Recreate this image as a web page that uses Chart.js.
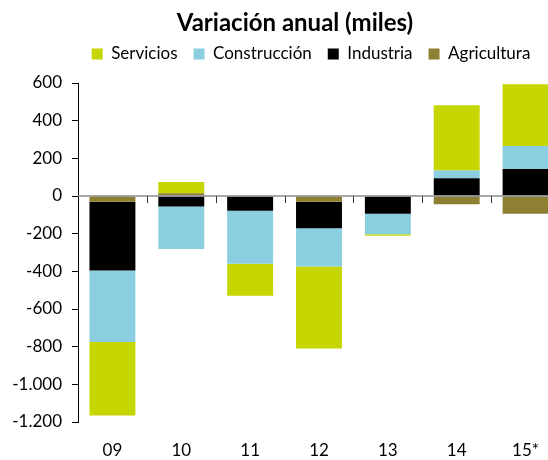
<!DOCTYPE html>
<html><head><meta charset="utf-8">
<script src="https://cdn.jsdelivr.net/npm/chart.js@4"></script>
<style>html,body{margin:0;padding:0;overflow:hidden;background:#fff}
#wrap{width:548px;height:460px;overflow:hidden;position:relative}
canvas{position:absolute;left:0;top:0}
</style></head><body><div id="wrap"><canvas id="c" width="590" height="460"></canvas></div>
<script>
const categories = ['09','10','11','12','13','14','15*'];
const servicios    = [-390,   60, -170, -436,   -8, 346, 328];
const construccion = [-380, -226, -282, -203, -109,  42, 122];
const industria    = [-365,  -56,  -78, -141,  -94,  94, 143];
const agricultura  = [ -30,   15,    0,  -30,    0, -44, -94];
const yMin = -1200, yMax = 600, yStep = 200;

const FONT = 'Lato';
const fmt = v => String(v).replace(/\B(?=(\d{3})+(?!\d))/g, '.');

const zeroLine = {
  id: 'zeroLine',
  afterDatasetsDraw(chart) {
    const {ctx, chartArea, scales: {x, y}} = chart;
    const y0 = y.getPixelForValue(0);
    ctx.save();
    ctx.strokeStyle = '#8c8c8c'; ctx.lineWidth = 1.5;
    ctx.beginPath(); ctx.moveTo(chartArea.left, y0); ctx.lineTo(chartArea.right, y0); ctx.stroke();
    ctx.strokeStyle = '#3a3a3a'; ctx.lineWidth = 1;
    ctx.beginPath();
    for (let i = 0; i < categories.length; i++) {
      const xb = Math.round((x.getPixelForValue(i) + x.getPixelForValue(i + 1)) / 2) + 0.5;
      ctx.moveTo(xb, y0); ctx.lineTo(xb, y0 + 7);
    }
    ctx.stroke();
    ctx.restore();
  }
};

const shiftBoxes = {
  id: 'shiftBoxes',
  afterLayout(chart) {
    if (chart.titleBlock) { chart.titleBlock.left += 30; }
    if (chart.legend) { chart.legend.left -= 8; chart.legend.right -= 8; }
  }
};

new Chart(document.getElementById('c'), {
  type: 'bar',
  data: {
    labels: categories,
    datasets: [
      {label: 'Agricultura', data: agricultura, backgroundColor: '#8f7f33'},
      {label: 'Industria', data: industria, backgroundColor: '#000000'},
      {label: 'Construcción', data: construccion, backgroundColor: '#8acee0'},
      {label: 'Servicios', data: servicios, backgroundColor: '#c5d600'}
    ]
  },
  options: {
    responsive: false, animation: false,
    layout: {padding: {right: 30, left: 0, top: 0, bottom: 0}},
    datasets: {bar: {categoryPercentage: 0.667, barPercentage: 1}},
    plugins: {
      title: {display: true, text: 'Variación anual (miles)', color: '#000',
        font: {family: FONT, size: 24, weight: 'bold', lineHeight: 0.517}, padding: {top: 17, bottom: 0}},
      subtitle: {display: true, text: '', weight: 500, padding: 0,
        font: {family: FONT, size: 10, lineHeight: 1.06}},
      legend: {display: true, reverse: true, fullSize: false,
        labels: {boxWidth: 11, boxHeight: 11, padding: 16, color: '#000', font: {family: FONT, size: 17}}},
      tooltip: {enabled: false}
    },
    scales: {
      x: {stacked: true, grid: {display: false, drawTicks: false}, border: {display: false},
        ticks: {color: '#000', font: {family: FONT, size: 17}, padding: 18},
        afterFit(s) { s.height = 38; }},
      y: {stacked: true, min: yMin, max: yMax,
        ticks: {stepSize: yStep, color: '#000', font: {family: FONT, size: 17}, padding: 10, callback: v => fmt(v)},
        grid: {drawOnChartArea: false, drawTicks: true, tickLength: 6, color: '#000'},
        border: {display: true, color: '#000', width: 1},
        afterFit(s) { s.width = 78; }}
    }
  },
  plugins: [zeroLine, shiftBoxes]
});
</script></body></html>
